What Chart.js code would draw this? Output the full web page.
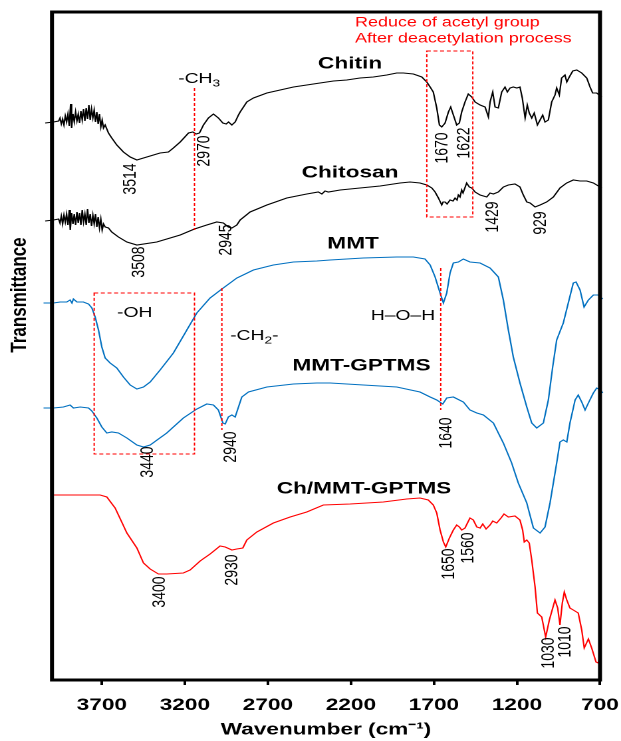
<!DOCTYPE html>
<html>
<head>
<meta charset="utf-8">
<script src="https://cdn.jsdelivr.net/npm/chart.js@4.4.1/dist/chart.umd.min.js"></script>
<style>
  html, body { margin: 0; padding: 0; background: #fff; overflow: hidden; }
  canvas { display: block; }
</style>
</head>
<body>
<!-- drawn on a narrower canvas and widened by CSS, so glyphs come out broad -->
<canvas id="ftir" width="467" height="741" style="width:621px;height:741px"></canvas>
<script>
// ---- spectra: wavenumber (cm-1) and offset transmittance (a.u.) ----
const chitinWn = [4041,3991,3960,3952,3944,3936,3928,3920,3912,3904,3896,3888,3882,3874,3866,3858,3850,3842,3834,3826,3818,3810,3802,3794,3786,3778,3770,3762,3754,3746,3738,3730,3722,3714,3706,3698,3690,3680,3660,3640,3610,3570,3529,3489,3449,3389,3349,3299,3269,3228,3178,3152,3132,3112,3088,3058,3028,2998,2971,2951,2937,2917,2897,2877,2867,2827,2787,2706,2626,2546,2466,2386,2305,2225,2145,2065,1984,1924,1884,1824,1773,1743,1723,1704,1683,1667,1653,1633,1613,1599,1583,1563,1547,1533,1513,1493,1472,1452,1422,1392,1372,1362,1346,1332,1312,1292,1272,1258,1242,1222,1201,1182,1168,1151,1138,1126,1111,1096,1077,1061,1045,1031,1011,991,971,961,945,931,911,900,885,864,840,810,780,760,744,720,690];
const chitinT  = [557,558,559,562,556,561,555,564,558,566,554,576,552,566,558,568,559,566,557,569,560,571,559,572,561,575,560,571,562,570,558,568,556,566,553,560,552,555,547,542,535,528,523,520,522,525,527,528,532,538,547,548,546,547,555,562,566,562,557,556,558,555,558,565,568,578,582,587,590,593,595,597,599,600,602,603,605,607,607,606,603,598,593,588,572,555,553,557,568,573,565,555,557,568,578,586,583,578,575,573,563,578,588,573,572,588,593,588,592,593,592,593,582,562,575,567,562,567,555,560,565,558,560,578,585,592,585,602,605,598,603,609,610,607,602,593,587,587,583];

const chitosanWn = [4041,3991,3960,3952,3944,3936,3928,3920,3912,3904,3896,3890,3882,3874,3866,3858,3850,3842,3834,3826,3818,3810,3802,3794,3786,3778,3770,3762,3754,3746,3738,3730,3722,3714,3706,3698,3690,3680,3660,3640,3600,3549,3489,3369,3228,3142,3068,3008,2968,2938,2917,2887,2867,2807,2706,2586,2466,2396,2375,2356,2336,2265,2145,2024,1904,1844,1784,1743,1713,1693,1673,1653,1645,1633,1621,1603,1585,1573,1561,1553,1543,1533,1525,1503,1487,1472,1452,1422,1382,1362,1342,1312,1282,1252,1212,1182,1162,1141,1121,1091,1061,1021,981,941,901,861,820,780,740,690];
const chitosanT  = [459,460,461,457,464,456,465,458,466,455,470,450,467,456,466,455,468,457,467,455,470,458,466,455,471,457,466,454,465,456,466,453,463,452,461,450,456,453,452,448,443,438,435,438,445,451,455,458,457,453,452,455,460,468,475,482,486,488,486,489,488,490,492,494,497,498,497,495,492,488,482,475,478,478,476,480,479,482,480,485,483,490,487,497,493,492,488,485,483,487,486,488,493,495,496,493,485,478,477,473,475,478,483,492,497,500,499,499,497,492];

const mmtWn = [4051,3991,3951,3911,3891,3880,3871,3850,3811,3780,3760,3740,3720,3700,3680,3650,3610,3570,3529,3489,3449,3409,3349,3269,3188,3128,3048,2977,2887,2787,2667,2546,2405,2325,2125,1924,1824,1754,1723,1693,1663,1643,1623,1603,1583,1553,1523,1483,1422,1362,1312,1282,1252,1222,1182,1141,1111,1081,1041,1011,985,961,921,891,861,844,820,796,770,740,710,684];
const mmtT  = [377,377,378,378,380,377,381,378,378,376,372,363,350,333,322,317,312,303,295,291,293,298,310,327,350,367,382,391,402,410,415,418,419,420,422,423,423,421,415,403,387,377,387,407,417,418,421,418,417,412,403,380,350,323,297,273,257,252,257,280,313,340,357,377,397,398,390,373,380,385,385,381];

const mmtGptmsWn = [4051,3991,3931,3891,3871,3830,3780,3760,3730,3700,3670,3640,3600,3549,3489,3449,3409,3309,3209,3128,3068,3028,2998,2971,2957,2938,2917,2897,2877,2857,2817,2706,2546,2405,2325,2125,1924,1784,1723,1683,1647,1623,1583,1523,1483,1442,1402,1342,1282,1232,1192,1141,1101,1061,1031,1001,961,941,921,900,881,850,831,810,790,770,740,720,696,684];
const mmtGptmsT  = [272,272,273,275,272,273,272,269,262,253,247,248,247,242,235,233,235,247,262,271,276,275,270,257,256,263,265,263,273,283,288,293,296,297,297,295,293,288,283,280,276,282,283,278,270,267,265,257,237,217,197,177,152,147,153,177,217,238,240,238,257,280,285,278,270,277,287,292,290,287];

const chMmtGptmsWn = [4000,3710,3670,3620,3549,3489,3449,3409,3359,3309,3209,3168,3108,3048,2988,2957,2917,2887,2851,2827,2767,2667,2566,2466,2366,2205,2005,1864,1784,1734,1704,1683,1663,1643,1629,1607,1583,1563,1547,1533,1513,1483,1463,1442,1422,1406,1386,1362,1346,1322,1296,1278,1252,1212,1182,1166,1156,1141,1126,1111,1091,1077,1051,1027,1005,971,955,941,927,915,900,881,861,831,810,795,770,750,724,710,694];
const chMmtGptmsT  = [185,185,183,172,147,132,117,111,106,106,107,110,119,126,134,133,130,131,132,140,148,157,163,168,175,176,178,181,182,180,175,167,150,138,133,142,150,155,153,150,152,162,160,153,152,156,151,155,159,157,162,166,163,164,160,150,138,140,137,120,93,67,63,43,60,80,72,55,77,88,80,72,70,67,50,32,41,32,18,17,28];

// ---- axis ----
const xTickValues = [3700, 3200, 2700, 2200, 1700, 1200, 700];

// ---- sample names ----
const sampleNames = ['Chitin', 'Chitosan', 'MMT', 'MMT-GPTMS', 'Ch/MMT-GPTMS'];
const sampleNameWn = [2205, 2205, 2187, 2136, 2121];
const sampleNameT  = [616, 507, 436, 314, 191];

// ---- band positions written beside the peaks ----
const peakText = ['3514','2970','1670','1622','3508','2945','1429','929','3440','2940','1640','3400','2930','1650','1560','1030','1010'];
const peakTextWn = [3529,3084,1648,1519,3475,2951,1347,1055,3424,2924,1624,3352,2915,1609,1493,1007,908];
const peakTextT  = [501,529,532,537,418,440,463,457,218,233,247,88,110,116,132,27,38];

// ---- functional group notes (text parts: [string, isSubscript]) ----
const groupNotes = [
  [['-CH', 0], ['3', 1]],
  [['-OH', 0]],
  [['-CH', 0], ['2', 1], ['-', 0]],
  [['H\u2013O\u2013H', 0]]
];
const groupNoteWn = [3240, 3608, 2927, 2080];
const groupNoteT  = [602, 368, 345, 365];

const redNotes = ['Reduce of acetyl group', 'After deacetylation process'];
const redNoteWn = [2175, 2175];
const redNoteT  = [657, 641];

// dashed guide lines: [wavenumber, from, to]
const guideLines = [[3142, 592, 450], [2977, 392, 250], [1659, 412, 270]];
// dashed boxes: [wn left, wn right, top, bottom]
const guideBoxes = [[1743, 1466, 629, 463], [3746, 3142, 387, 226]];

const FONT = "'Liberation Sans', Arial, Helvetica, sans-serif";
const BLUE = '#0070C0';
const RED = '#FF0000';

const pts = (xs, ys) => xs.map((x, i) => ({ x, y: ys[i] }));
const spectra = [
  { data: pts(chitinWn, chitinT), color: '#000000' },
  { data: pts(chitosanWn, chitosanT), color: '#000000' },
  { data: pts(mmtWn, mmtT), color: BLUE },
  { data: pts(mmtGptmsWn, mmtGptmsT), color: BLUE },
  { data: pts(chMmtGptmsWn, chMmtGptmsT), color: RED }
];

function drawParts(ctx, parts, x, y, size, color) {
  ctx.save();
  ctx.fillStyle = color;
  ctx.textAlign = 'left';
  ctx.textBaseline = 'alphabetic';
  let cx = x;
  const base = y + size * 0.36;
  parts.forEach(([t, sub]) => {
    const fs = sub ? size * 0.72 : size;
    ctx.font = `${fs}px ${FONT}`;
    ctx.fillText(t, cx, sub ? base + size * 0.22 : base);
    cx += ctx.measureText(t).width;
  });
  ctx.restore();
}

const notesPlugin = {
  id: 'notes',
  afterDatasetsDraw(chart) {
    const { ctx, scales: { x, y } } = chart;
    const X = v => x.getPixelForValue(v);
    const Y = v => y.getPixelForValue(v);

    // red dashed guides
    ctx.save();
    ctx.strokeStyle = RED;
    ctx.lineWidth = 1;
    ctx.setLineDash([3, 2]);
    guideLines.forEach(([wn, a, b]) => {
      ctx.beginPath();
      ctx.moveTo(X(wn), Y(a));
      ctx.lineTo(X(wn), Y(b));
      ctx.stroke();
    });
    guideBoxes.forEach(([w0, w1, t0, t1]) => {
      ctx.strokeRect(X(w0), Y(t0), X(w1) - X(w0), Y(t1) - Y(t0));
    });
    ctx.restore();

    // sample names
    ctx.save();
    ctx.font = `bold 17px ${FONT}`;
    ctx.fillStyle = '#000';
    ctx.textAlign = 'center';
    ctx.textBaseline = 'middle';
    sampleNames.forEach((s, i) => ctx.fillText(s, X(sampleNameWn[i]), Y(sampleNameT[i])));
    ctx.restore();

    // band positions, rotated
    ctx.save();
    ctx.font = `14px ${FONT}`;
    ctx.fillStyle = '#000';
    ctx.textAlign = 'center';
    ctx.textBaseline = 'middle';
    peakText.forEach((s, i) => {
      ctx.save();
      ctx.translate(X(peakTextWn[i]), Y(peakTextT[i]));
      ctx.rotate(-Math.PI / 2);
      ctx.fillText(s, 0, 0);
      ctx.restore();
    });
    ctx.restore();

    // group notes
    groupNotes.forEach((parts, i) => drawParts(ctx, parts, X(groupNoteWn[i]), Y(groupNoteT[i]), 14.5, '#000'));

    // acetyl note
    ctx.save();
    ctx.font = `13.5px ${FONT}`;
    ctx.fillStyle = RED;
    ctx.textAlign = 'left';
    ctx.textBaseline = 'middle';
    redNotes.forEach((s, i) => ctx.fillText(s, X(redNoteWn[i]), Y(redNoteT[i])));
    ctx.restore();
  },
  afterDraw(chart) {
    const { ctx, chartArea: a } = chart;
    ctx.save();
    ctx.strokeStyle = '#000';
    ctx.lineWidth = 3;
    ctx.strokeRect(a.left, a.top, a.right - a.left, a.bottom - a.top);
    // y axis title
    ctx.translate(15, 295);
    ctx.rotate(-Math.PI / 2);
    ctx.font = `bold 17px ${FONT}`;
    ctx.fillStyle = '#000';
    ctx.textAlign = 'center';
    ctx.textBaseline = 'middle';
    ctx.fillText('Transmittance', 0, 0);
    ctx.restore();
  }
};

new Chart(document.getElementById('ftir'), {
  type: 'line',
  data: {
    datasets: spectra.map(s => ({
      data: s.data,
      borderColor: s.color,
      borderWidth: 1.1,
      pointRadius: 0,
      tension: 0,
      fill: false,
      clip: false
    }))
  },
  options: {
    responsive: false,
    animation: false,
    devicePixelRatio: 2,
    layout: { autoPadding: false, padding: { left: 39.1, right: 15.8, top: 12, bottom: 0 } },
    plugins: { legend: { display: false }, tooltip: { enabled: false } },
    scales: {
      x: {
        type: 'linear',
        min: 700,
        max: 4000,
        reverse: true,
        afterBuildTicks: sc => { sc.ticks = xTickValues.map(v => ({ value: v })); },
        afterFit: sc => { sc.height = 61; sc.paddingLeft = 0; sc.paddingRight = 0; },
        border: { display: false },
        grid: { display: true, drawOnChartArea: false, drawTicks: true, tickLength: 5, tickWidth: 2, tickColor: '#000' },
        ticks: { font: { family: FONT, size: 17, weight: 'bold' }, color: '#000', padding: 10, maxRotation: 0, autoSkip: false, callback: v => String(v) },
        title: { display: true, text: 'Wavenumber (cm\u207B\u00B9)', font: { family: FONT, size: 17, weight: 'bold' }, color: '#000', padding: { top: 0, bottom: 1 } }
      },
      y: { display: false, min: 0, max: 668 }
    }
  },
  plugins: [notesPlugin]
});
</script>
</body>
</html>
